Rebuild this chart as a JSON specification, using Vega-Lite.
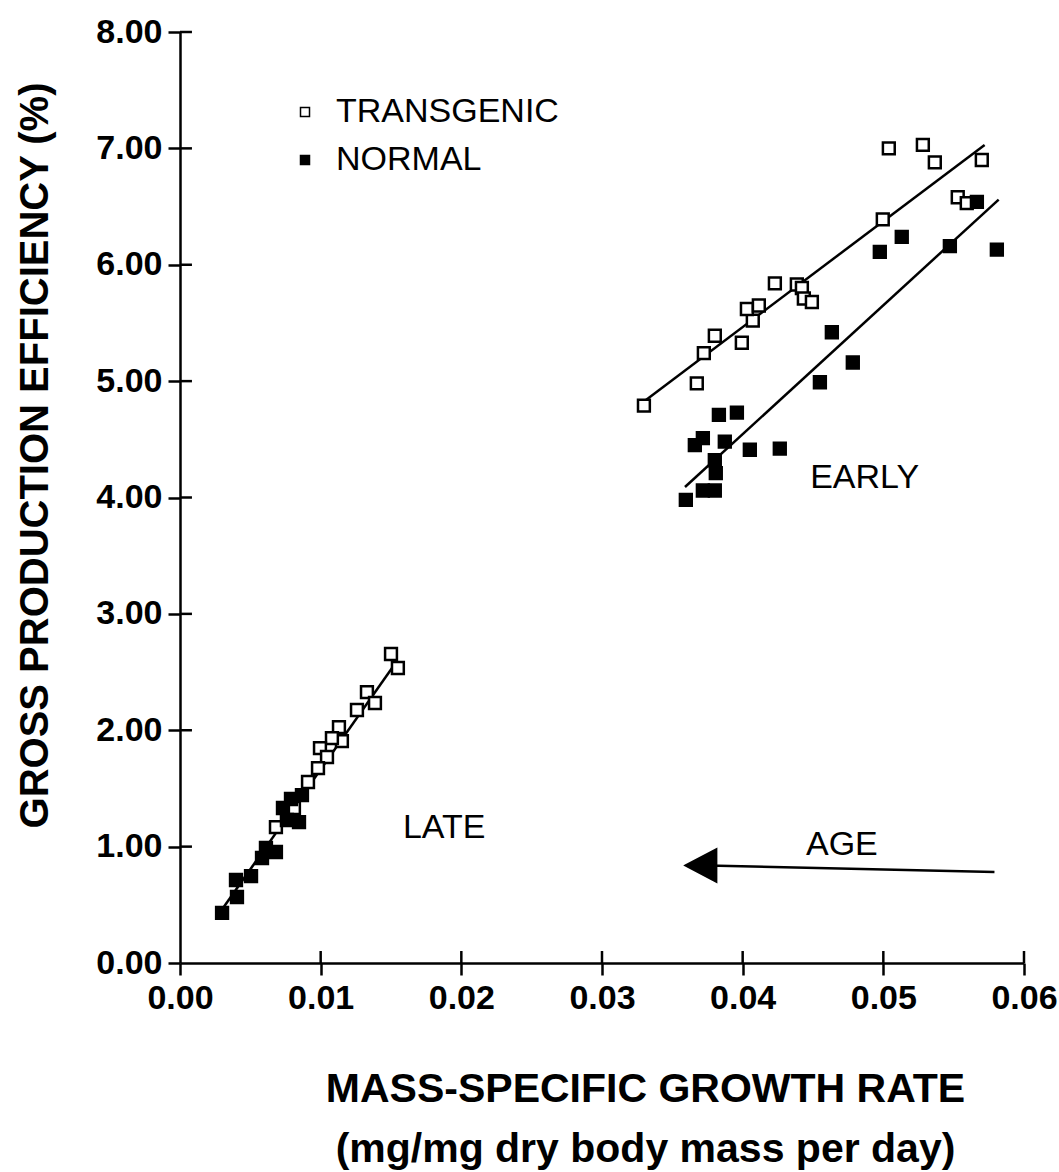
{
  "$schema": "https://vega.github.io/schema/vega-lite/v6.json",
  "width": 844,
  "height": 931,
  "autosize": {"type": "none"},
  "padding": {"left": 180, "top": 32, "right": 35, "bottom": 209},
  "background": "white",
  "config": {"view": {"stroke": null}},
  "datasets": {
    "pts": [
      {"group": "TRANSGENIC", "rate": 0.03298, "gpe": 4.79},
      {"group": "TRANSGENIC", "rate": 0.03674, "gpe": 4.98},
      {"group": "TRANSGENIC", "rate": 0.03724, "gpe": 5.24},
      {"group": "TRANSGENIC", "rate": 0.03802, "gpe": 5.39},
      {"group": "TRANSGENIC", "rate": 0.03994, "gpe": 5.33},
      {"group": "TRANSGENIC", "rate": 0.04072, "gpe": 5.52},
      {"group": "TRANSGENIC", "rate": 0.0403, "gpe": 5.62},
      {"group": "TRANSGENIC", "rate": 0.04115, "gpe": 5.65},
      {"group": "TRANSGENIC", "rate": 0.04229, "gpe": 5.84},
      {"group": "TRANSGENIC", "rate": 0.04385, "gpe": 5.83},
      {"group": "TRANSGENIC", "rate": 0.04421, "gpe": 5.8},
      {"group": "TRANSGENIC", "rate": 0.04435, "gpe": 5.71},
      {"group": "TRANSGENIC", "rate": 0.04492, "gpe": 5.68},
      {"group": "TRANSGENIC", "rate": 0.04996, "gpe": 6.39},
      {"group": "TRANSGENIC", "rate": 0.05039, "gpe": 7.0},
      {"group": "TRANSGENIC", "rate": 0.05281, "gpe": 7.03},
      {"group": "TRANSGENIC", "rate": 0.05366, "gpe": 6.88},
      {"group": "TRANSGENIC", "rate": 0.057, "gpe": 6.9},
      {"group": "TRANSGENIC", "rate": 0.05529, "gpe": 6.58},
      {"group": "TRANSGENIC", "rate": 0.05593, "gpe": 6.53},
      {"group": "TRANSGENIC", "rate": 0.015, "gpe": 2.655},
      {"group": "TRANSGENIC", "rate": 0.01549, "gpe": 2.535},
      {"group": "TRANSGENIC", "rate": 0.01329, "gpe": 2.328},
      {"group": "TRANSGENIC", "rate": 0.01386, "gpe": 2.234},
      {"group": "TRANSGENIC", "rate": 0.01258, "gpe": 2.174},
      {"group": "TRANSGENIC", "rate": 0.0113, "gpe": 2.027},
      {"group": "TRANSGENIC", "rate": 0.01151, "gpe": 1.907},
      {"group": "TRANSGENIC", "rate": 0.0108, "gpe": 1.933},
      {"group": "TRANSGENIC", "rate": 0.00995, "gpe": 1.847},
      {"group": "TRANSGENIC", "rate": 0.01045, "gpe": 1.77},
      {"group": "TRANSGENIC", "rate": 0.00981, "gpe": 1.675},
      {"group": "TRANSGENIC", "rate": 0.0091, "gpe": 1.555},
      {"group": "TRANSGENIC", "rate": 0.0081, "gpe": 1.332},
      {"group": "TRANSGENIC", "rate": 0.00682, "gpe": 1.168},
      {"group": "NORMAL", "rate": 0.03596, "gpe": 3.98},
      {"group": "NORMAL", "rate": 0.03717, "gpe": 4.06},
      {"group": "NORMAL", "rate": 0.03802, "gpe": 4.06},
      {"group": "NORMAL", "rate": 0.03809, "gpe": 4.21},
      {"group": "NORMAL", "rate": 0.03802, "gpe": 4.32},
      {"group": "NORMAL", "rate": 0.0366, "gpe": 4.45},
      {"group": "NORMAL", "rate": 0.03717, "gpe": 4.51},
      {"group": "NORMAL", "rate": 0.03873, "gpe": 4.48},
      {"group": "NORMAL", "rate": 0.03831, "gpe": 4.71},
      {"group": "NORMAL", "rate": 0.03959, "gpe": 4.73},
      {"group": "NORMAL", "rate": 0.04051, "gpe": 4.41},
      {"group": "NORMAL", "rate": 0.04264, "gpe": 4.42},
      {"group": "NORMAL", "rate": 0.04549, "gpe": 4.99},
      {"group": "NORMAL", "rate": 0.04783, "gpe": 5.16},
      {"group": "NORMAL", "rate": 0.04634, "gpe": 5.42},
      {"group": "NORMAL", "rate": 0.04975, "gpe": 6.11},
      {"group": "NORMAL", "rate": 0.05131, "gpe": 6.24},
      {"group": "NORMAL", "rate": 0.05473, "gpe": 6.16},
      {"group": "NORMAL", "rate": 0.05807, "gpe": 6.13},
      {"group": "NORMAL", "rate": 0.05665, "gpe": 6.54},
      {"group": "NORMAL", "rate": 0.00299, "gpe": 0.43},
      {"group": "NORMAL", "rate": 0.00405, "gpe": 0.567},
      {"group": "NORMAL", "rate": 0.00398, "gpe": 0.713},
      {"group": "NORMAL", "rate": 0.00505, "gpe": 0.747},
      {"group": "NORMAL", "rate": 0.00583, "gpe": 0.902},
      {"group": "NORMAL", "rate": 0.00611, "gpe": 0.988},
      {"group": "NORMAL", "rate": 0.00682, "gpe": 0.954},
      {"group": "NORMAL", "rate": 0.0076, "gpe": 1.229},
      {"group": "NORMAL", "rate": 0.00846, "gpe": 1.211},
      {"group": "NORMAL", "rate": 0.00732, "gpe": 1.332},
      {"group": "NORMAL", "rate": 0.00789, "gpe": 1.409},
      {"group": "NORMAL", "rate": 0.00867, "gpe": 1.443}
    ],
    "fits": [
      {"rate": 0.0327, "gpe": 4.8, "rate2": 0.0572, "gpe2": 7.03},
      {"rate": 0.0359, "gpe": 4.09, "rate2": 0.0582, "gpe2": 6.56},
      {"rate": 0.00296, "gpe": 0.455, "rate2": 0.0154, "gpe2": 2.59},
      {"rate": 0.0375, "gpe": 0.838, "rate2": 0.0579, "gpe2": 0.782}
    ],
    "innerTicks": [
      {"rate": 0.01, "gpe": 0, "rate2": 0.01, "gpe2": 0.103},
      {"rate": 0.02, "gpe": 0, "rate2": 0.02, "gpe2": 0.103},
      {"rate": 0.03, "gpe": 0, "rate2": 0.03, "gpe2": 0.103},
      {"rate": 0.04, "gpe": 0, "rate2": 0.04, "gpe2": 0.103},
      {"rate": 0.05, "gpe": 0, "rate2": 0.05, "gpe2": 0.103},
      {"rate": 0.06, "gpe": 0, "rate2": 0.06, "gpe2": 0.103},
      {"rate": 0, "gpe": 1, "rate2": 0.00085, "gpe2": 1},
      {"rate": 0, "gpe": 2, "rate2": 0.00085, "gpe2": 2},
      {"rate": 0, "gpe": 3, "rate2": 0.00085, "gpe2": 3},
      {"rate": 0, "gpe": 4, "rate2": 0.00085, "gpe2": 4},
      {"rate": 0, "gpe": 5, "rate2": 0.00085, "gpe2": 5},
      {"rate": 0, "gpe": 6, "rate2": 0.00085, "gpe2": 6},
      {"rate": 0, "gpe": 7, "rate2": 0.00085, "gpe2": 7},
      {"rate": 0, "gpe": 8, "rate2": 0.00085, "gpe2": 8}
    ],
    "notes": [
      {"label": "EARLY", "rate": 0.0448, "gpe": 4.17},
      {"label": "LATE", "rate": 0.01585, "gpe": 1.16},
      {"label": "AGE", "rate": 0.0445, "gpe": 1.01}
    ],
    "head": [
      {"rate": 0.03703, "gpe": 0.838}
    ]
  },
  "layer": [
    {
      "data": {"name": "fits"},
      "mark": {"type": "rule", "stroke": "black", "strokeWidth": 2.5},
      "encoding": {
        "x": {"field": "rate", "type": "quantitative", "scale": {"domain": [0, 0.06], "nice": false, "zero": false},
          "axis": {"orient": "bottom", "values": [0, 0.01, 0.02, 0.03, 0.04, 0.05, 0.06], "format": ".2f", "tickSize": 12, "tickWidth": 2.5, "tickColor": "black", "domainColor": "black", "domainWidth": 2.5, "grid": false,
            "labelFont": "Liberation Sans", "labelFontWeight": "bold", "labelFontSize": 34, "labelColor": "black", "labelPadding": 6, "labelOverlap": false, "labelBound": false, "labelFlush": false,
            "title": ["MASS-SPECIFIC GROWTH RATE", "(mg/mg dry body mass per day)"], "titleFont": "Liberation Sans", "titleFontSize": 41, "titleFontWeight": "bold", "titleColor": "black", "titleX": 465, "titleY": 106, "titleBaseline": "top", "titleAlign": "center", "titleAnchor": null, "titleLineHeight": 60, "titleLimit": 1000}},
        "x2": {"field": "rate2"},
        "y": {"field": "gpe", "type": "quantitative", "scale": {"domain": [0, 8], "nice": false, "zero": false},
          "axis": {"orient": "left", "values": [0, 1, 2, 3, 4, 5, 6, 7, 8], "format": ".2f", "tickSize": 12, "tickWidth": 2.5, "tickColor": "black", "domainColor": "black", "domainWidth": 2.5, "grid": false,
            "labelFont": "Liberation Sans", "labelFontWeight": "bold", "labelFontSize": 34, "labelColor": "black", "labelPadding": 6, "labelOverlap": false, "labelBound": false, "labelFlush": false,
            "title": "GROSS PRODUCTION EFFICIENCY (%)", "titleFont": "Liberation Sans", "titleFontSize": 40, "titleFontWeight": "bold", "titleColor": "black", "titleX": -145, "titleY": 423, "titleAngle": 270, "titleBaseline": "middle", "titleAlign": "center", "titleAnchor": null, "titleLimit": 1000}},
        "y2": {"field": "gpe2"}
      }
    },
    {
      "data": {"name": "innerTicks"},
      "mark": {"type": "rule", "stroke": "black", "strokeWidth": 2.5},
      "encoding": {
        "x": {"field": "rate", "type": "quantitative"},
        "x2": {"field": "rate2"},
        "y": {"field": "gpe", "type": "quantitative"},
        "y2": {"field": "gpe2"}
      }
    },
    {
      "data": {"name": "head"},
      "mark": {"type": "point", "shape": "M-1,0L1,-1.05L1,1.05Z", "filled": true, "fill": "black", "stroke": "black", "size": 961, "opacity": 1},
      "encoding": {
        "x": {"field": "rate", "type": "quantitative"},
        "y": {"field": "gpe", "type": "quantitative"}
      }
    },
    {
      "data": {"name": "pts"},
      "mark": {"type": "point", "shape": "square", "filled": true, "stroke": "black", "strokeWidth": 2.5, "size": 140, "opacity": 1},
      "encoding": {
        "x": {"field": "rate", "type": "quantitative"},
        "y": {"field": "gpe", "type": "quantitative"},
        "fill": {"field": "group", "type": "nominal", "scale": {"domain": ["TRANSGENIC", "NORMAL"], "range": ["white", "black"]},
          "legend": {"title": null, "orient": "none", "legendX": 108, "legendY": 63, "symbolType": "square", "symbolSize": 81, "symbolStrokeColor": "black", "symbolStrokeWidth": 1.5, "labelFont": "Liberation Sans", "labelFontSize": 34, "labelColor": "black", "labelOffset": 14, "labelLimit": 500, "rowPadding": 14, "padding": 0}}
      }
    },
    {
      "data": {"name": "notes"},
      "mark": {"type": "text", "align": "left", "baseline": "middle", "font": "Liberation Sans", "fontSize": 34, "color": "black"},
      "encoding": {
        "x": {"field": "rate", "type": "quantitative"},
        "y": {"field": "gpe", "type": "quantitative"},
        "text": {"field": "label"}
      }
    }
  ]
}
